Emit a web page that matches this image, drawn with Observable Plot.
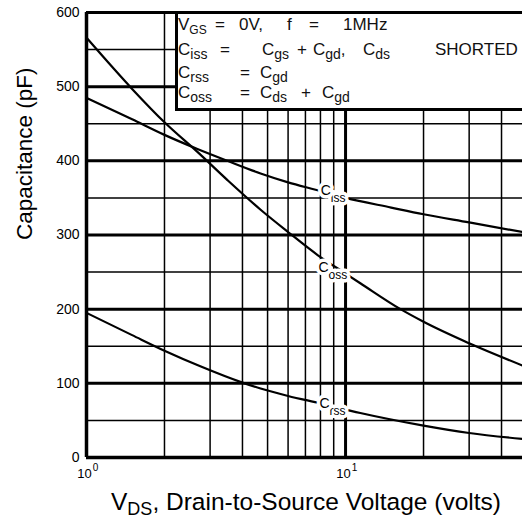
<!DOCTYPE html>
<html><head><meta charset="utf-8">
<script src="https://cdn.jsdelivr.net/npm/d3@7"></script>
<script src="https://cdn.jsdelivr.net/npm/@observablehq/plot@0.6"></script>
<style>
body{margin:0;background:#fff;}
#wrap{position:relative;width:522px;height:524px;overflow:hidden;background:#fff;}
.legend{position:absolute;left:175px;top:11px;width:350px;height:100px;box-sizing:border-box;border:3px solid #000;border-right:none;background:#fff;font-family:"Liberation Sans",Arial,sans-serif;font-size:17px;color:#111;}
.legend .ln{position:absolute;left:0;width:100%;height:17px;line-height:17px;}
.legend .ln span.t{position:absolute;white-space:pre;}
.legend .s{font-size:14px;position:relative;top:4px;}
.legend .s2{font-size:12px;position:relative;top:4px;}
.xlabel{position:absolute;top:490px;left:306px;transform:translateX(-50%);white-space:nowrap;font-family:"Liberation Sans",Arial,sans-serif;font-size:24.5px;line-height:24px;color:#000;}
.xlabel .s{font-size:18px;position:relative;top:5px;}
</style>
</head><body>
<div id="wrap"></div>
<script>
// Data
const Vds_ciss = [1, 1.5, 2, 2.68, 3.5, 4.7, 6, 7.66, 10, 15, 20, 30, 48.2];
const Ciss     = [485, 456, 435, 416, 400, 383, 371, 361, 350, 337, 328, 317, 304];
const Vds_coss = [1, 1.5, 2, 2.68, 3.5, 4.7, 6, 7.8, 10, 11.4, 16.3, 20, 30, 48.2];
const Coss     = [566, 497, 452, 412, 374, 334, 304, 273, 248, 235, 200, 183, 154, 124];
const Vds_crss = [1, 1.5, 2, 2.75, 4, 4.7, 6, 8, 11.4, 20, 30, 48.2];
const Crss     = [195, 165, 144, 123, 101, 93, 83, 73, 60, 43, 33, 25];

const curveLabelV   = [8.39, 8.22, 8.3];
const curveLabelC   = [360, 256, 73];
const curveLabelSub = ["iss", "oss", "rss"];

const yTicks      = [0, 100, 200, 300, 400, 500, 600];
const yMinorGrid  = [50, 150, 250, 350, 450, 550];
const yMajorGrid  = [100, 200, 300, 400, 500, 600];
const xMinorGrid  = [2, 3, 4, 5, 6, 7, 8, 9, 20, 30, 40];
const xMajorGrid  = [10];
const xTickValues = [1, 10];
const xTickExp    = ["0", "1"];

const xDomain = [1, 48.2];
const yDomain = [0, 600];

const toRows = (xs, ys) => xs.map((v, i) => ({V: v, C: ys[i]}));
const labels = curveLabelV.map((v, i) => ({V: v, C: curveLabelC[i], sub: curveLabelSub[i]}));

const chart = Plot.plot({
  width: 522, height: 524,
  marginLeft: 86, marginRight: 0, marginTop: 12, marginBottom: 67,
  x: {type: "log", domain: xDomain, axis: null},
  y: {domain: yDomain},
  style: {fontFamily: "Liberation Sans, Arial, sans-serif", background: "white", color: "#000"},
  marks: [
    Plot.ruleY(yMinorGrid, {stroke: "#000", strokeWidth: 1.5}),
    Plot.ruleX(xMinorGrid, {stroke: "#000", strokeWidth: 1.5}),
    Plot.ruleY(yMajorGrid, {stroke: "#000", strokeWidth: 3}),
    Plot.ruleX(xMajorGrid, {stroke: "#000", strokeWidth: 3}),
    Plot.ruleX([xDomain[0]], {stroke: "#000", strokeWidth: 3.5}),
    Plot.ruleY([yDomain[0]], {stroke: "#000", strokeWidth: 3.5}),
    Plot.line(toRows(Vds_ciss, Ciss), {x: "V", y: "C", stroke: "#000", strokeWidth: 2.2, curve: "monotone-x"}),
    Plot.line(toRows(Vds_coss, Coss), {x: "V", y: "C", stroke: "#000", strokeWidth: 2.2, curve: "monotone-x"}),
    Plot.line(toRows(Vds_crss, Crss), {x: "V", y: "C", stroke: "#000", strokeWidth: 2.2, curve: "monotone-x"}),
    Plot.text(labels, {x: "V", y: "C", text: "sub", dx: 5, dy: 8, textAnchor: "start", fontSize: 12, fill: "#000", stroke: "white", strokeWidth: 7}),
    Plot.text(labels, {x: "V", y: "C", text: () => "C", fontSize: 14, fill: "#000", stroke: "white", strokeWidth: 7}),
    Plot.axisY(yTicks, {tickSize: 0, tickPadding: 7, fontSize: 14, label: null}),
    Plot.text(xTickValues, {x: d => d, frameAnchor: "bottom", text: () => "10", dx: -2, dy: 20, fontSize: 13}),
    Plot.text(xTickValues, {x: d => d, frameAnchor: "bottom", text: (d, i) => xTickExp[i], dx: 9, dy: 13, fontSize: 10}),
    Plot.text(["Capacitance (pF)"], {frameAnchor: "left", text: d => d, rotate: -90, dx: -62, dy: 5, fontSize: 22.5})
  ]
});

const wrap = document.getElementById("wrap");
wrap.appendChild(chart);

// legend lines: tokens positioned to match the reference layout
const C = (sub) => 'C<span class="s">' + sub + '</span>';
const tok = (x, html) => '<span class="t" style="left:' + x + 'px">' + html + '</span>';
const legendLines = [
  [2,  [[0, 'V<span class="s2">GS</span>'], [37, '='], [61, '0V,'], [109, 'f'], [131, '='], [165, '1MHz']]],
  [27, [[0, C('iss')], [42, '='], [84, C('gs')], [119, '+'], [135, C('gd') + ','], [185, C('ds')], [257, 'SHORTED']]],
  [50, [[0, C('rss')], [62, '='], [82, C('gd')]]],
  [70, [[0, C('oss')], [62, '='], [82, C('ds')], [123, '+'], [144, C('gd')]]]
];
const legend = document.createElement("div");
legend.className = "legend";
legend.innerHTML = legendLines.map(([top, toks]) =>
  '<div class="ln" style="top:' + top + 'px">' + toks.map(([x, h]) => tok(x, h)).join('') + '</div>'
).join('');
wrap.appendChild(legend);

const xl = document.createElement("div");
xl.className = "xlabel";
xl.innerHTML = 'V<span class="s">DS</span>, Drain-to-Source Voltage (volts)';
wrap.appendChild(xl);
</script>
</body></html>
